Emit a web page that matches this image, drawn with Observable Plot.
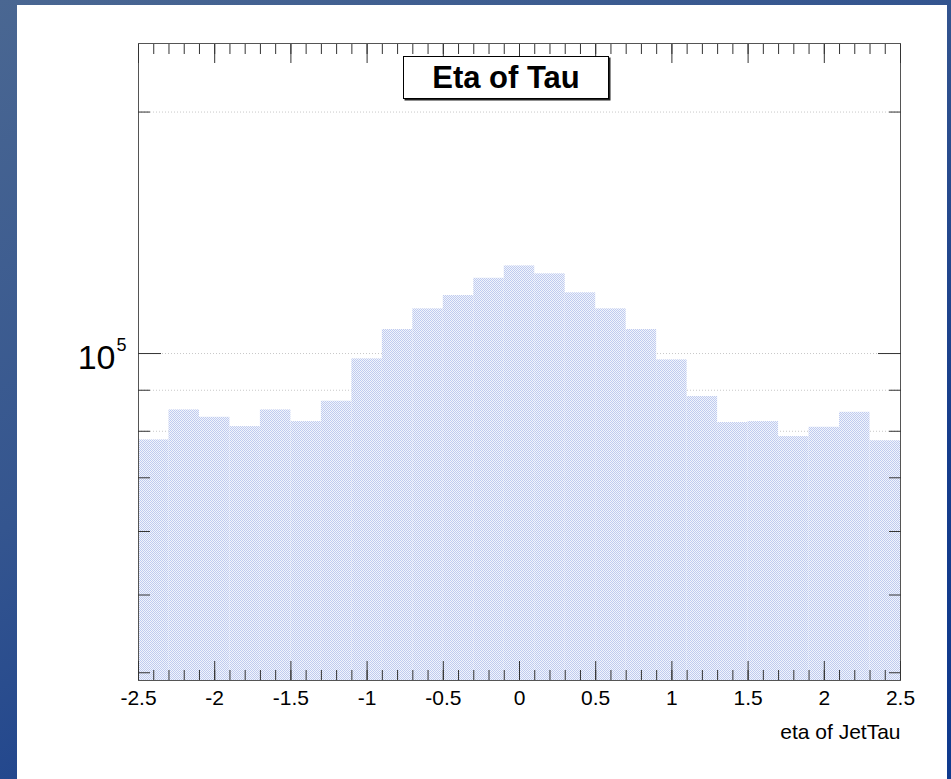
<!DOCTYPE html>
<html><head><meta charset="utf-8">
<script src="https://cdn.jsdelivr.net/npm/d3@7"></script>
<script src="https://cdn.jsdelivr.net/npm/@observablehq/plot@0.6"></script>
<style>
html,body{margin:0;padding:0;width:951px;height:779px;overflow:hidden;}
body{background:linear-gradient(150deg,#4a6792 0%,#34558f 40%,#163d8c 75%,#0f3a8e 100%);position:relative;font-family:"Liberation Sans",Arial,sans-serif;}
#canvas{position:absolute;left:17px;top:5px;width:930px;height:774px;background:#fff;}
#chart{position:absolute;left:0;top:0;}
#title{position:absolute;left:403px;top:56px;width:204px;height:41px;border:1px solid #000;box-shadow:1.5px 1.5px 0 #222;background:#fff;font-weight:bold;font-size:31px;text-align:center;line-height:41px;color:#000;}
</style></head><body>
<div id="canvas"></div><div id="chart"></div><div id="title">Eta of Tau</div>
<script>
// Histogram bins (lower edges) and counts, bin width 0.2
const binLow = [-2.5,-2.3,-2.1,-1.9,-1.7,-1.5,-1.3,-1.1,-0.9,-0.7,-0.5,-0.3,-0.1,0.1,0.3,0.5,0.7,0.9,1.1,1.3,1.5,1.7,1.9,2.1,2.3];
const counts = [78050,85060,83270,81090,85060,82260,87210,98490,107140,113690,118120,124110,128600,125700,119040,113690,107140,98200,88400,82030,82260,78800,80920,84480,77860];
const binWidth = 0.2;

const xMajorTicks = [-2.5,-2,-1.5,-1,-0.5,0,0.5,1,1.5,2,2.5];
const xMinorTicks = d3.range(-25, 26).map(i => i / 10);
const yMinorTicks = [40000,50000,60000,70000,80000,90000,200000];
const yMajorTicks = [100000];
const yDomain = [39120, 243500];

const bins = binLow.map((lo, i) => ({lo, hi: lo + binWidth, count: counts[i]}));

const defsMark = () => {
  const ns = "http://www.w3.org/2000/svg";
  const defs = document.createElementNS(ns, "defs");
  defs.innerHTML = `<pattern id="fillpat" width="2" height="2" patternUnits="userSpaceOnUse">
    <rect width="2" height="2" fill="#f1f4fc"/>
    <rect width="1" height="1" fill="#bfcbef"/>
    <rect x="1" y="1" width="1" height="1" fill="#bfcbef"/></pattern>`;
  return defs;
};

const tickColor = "#333";
const plot = Plot.plot({
  width: 951, height: 779,
  marginLeft: 138, marginRight: 51, marginTop: 43, marginBottom: 99,
  style: {background: "transparent", fontFamily: "'Liberation Sans', Arial, sans-serif", color: "#000", overflow: "visible"},
  x: {domain: [-2.5, 2.5]},
  y: {type: "log", domain: yDomain},
  marks: [
    defsMark,
    Plot.gridY([...yMinorTicks, ...yMajorTicks], {stroke: "#c8c8c8", strokeOpacity: 1, strokeDasharray: "1,2"}),
    Plot.rect(bins, {x1: "lo", x2: "hi", y1: yDomain[0], y2: "count", fill: "url(#fillpat)", clip: true}),
    Plot.frame({stroke: "#555"}),
    // y ticks left & right (inward)
    Plot.axisY(yMinorTicks, {anchor: "left", tickSize: -12, fill: "none", stroke: tickColor}),
    Plot.axisY(yMajorTicks, {anchor: "left", tickSize: -23, fill: "none", stroke: tickColor}),
    Plot.axisY(yMinorTicks, {anchor: "right", tickSize: -12, fill: "none", stroke: tickColor}),
    Plot.axisY(yMajorTicks, {anchor: "right", tickSize: -23, fill: "none", stroke: tickColor}),
    Plot.text(yMajorTicks, {y: d => d, frameAnchor: "left", dx: -23, dy: 5, text: () => "10", fontSize: 34, textAnchor: "end"}),
    Plot.text(yMajorTicks, {y: d => d, frameAnchor: "left", dx: -22, dy: -8, text: () => "5", fontSize: 18, textAnchor: "start"}),
    // x ticks bottom & top (inward)
    Plot.axisX(xMinorTicks, {anchor: "bottom", tickSize: -10, fill: "none", stroke: tickColor}),
    Plot.axisX(xMajorTicks, {anchor: "bottom", tickSize: -19, fill: "none", stroke: tickColor}),
    Plot.axisX(xMinorTicks, {anchor: "top", tickSize: -10, fill: "none", stroke: tickColor}),
    Plot.axisX(xMajorTicks, {anchor: "top", tickSize: -19, fill: "none", stroke: tickColor}),
    Plot.axisX(xMajorTicks, {anchor: "bottom", tickSize: 0, tickPadding: 10, fontSize: 21, label: null, tickFormat: d => String(d)}),
    Plot.text(["eta of JetTau"], {frameAnchor: "bottom-right", dy: 58, textAnchor: "end", fontSize: 21})
  ]
});
document.getElementById("chart").appendChild(plot);
</script>
</body></html>
